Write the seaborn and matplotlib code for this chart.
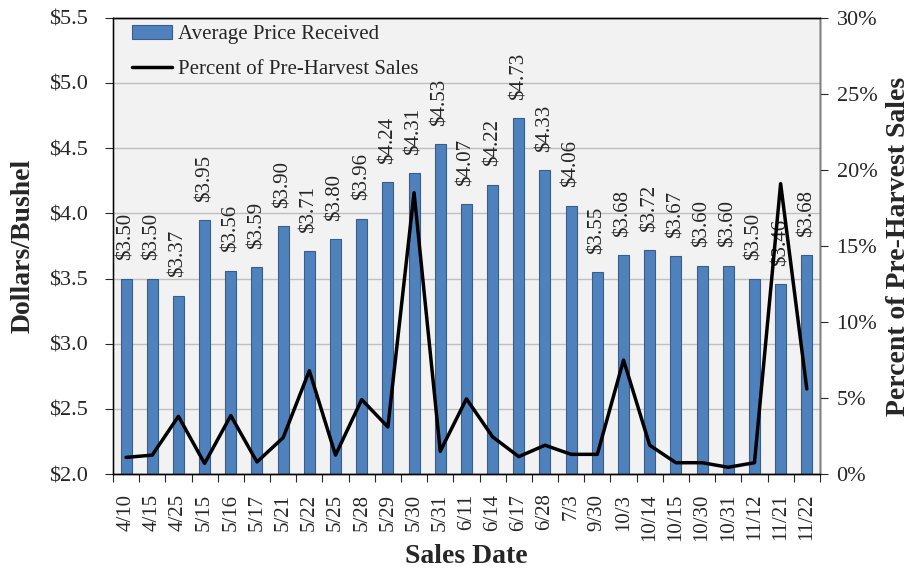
import pandas as pd
import matplotlib.pyplot as plt
import seaborn as sns
from matplotlib.ticker import FuncFormatter, MultipleLocator

dates = ['4/10', '4/15', '4/25', '5/15', '5/16', '5/17', '5/21', '5/22', '5/25', '5/28',
         '5/29', '5/30', '5/31', '6/11', '6/14', '6/17', '6/28', '7/3', '9/30', '10/3',
         '10/14', '10/15', '10/30', '10/31', '11/12', '11/21', '11/22']
prices = [3.50, 3.50, 3.37, 3.95, 3.56, 3.59, 3.90, 3.71, 3.80, 3.96,
          4.24, 4.31, 4.53, 4.07, 4.22, 4.73, 4.33, 4.06, 3.55, 3.68,
          3.72, 3.67, 3.60, 3.60, 3.50, 3.46, 3.68]
pct_sales = [1.1, 1.25, 3.8, 0.7, 3.85, 0.8, 2.4, 6.8, 1.25, 4.9,
             3.1, 18.5, 1.5, 4.95, 2.45, 1.15, 1.9, 1.3, 1.3, 7.5,
             1.9, 0.75, 0.75, 0.45, 0.75, 19.1, 5.6]

df = pd.DataFrame({'date': dates, 'price': prices, 'pct': pct_sales})
df['pos'] = range(len(df))

sns.set_style("ticks")
plt.rcParams['font.family'] = ['Liberation Serif', 'DejaVu Serif']

fig = plt.figure(figsize=(9.11, 5.74), dpi=100)
ax = fig.add_axes([0.124, 0.174, 0.776, 0.795])
ax.set_facecolor('#F2F2F2')

sns.barplot(data=df, x='date', y='price', color='#4F81BD', width=0.42,
            edgecolor='#385D8A', linewidth=0.8, saturation=1, ax=ax,
            label='Average Price Received', zorder=2)
# price labels above bars
for i, p in enumerate(prices):
    ax.text(i, p + 0.14, f'${p:.2f}', rotation=90, ha='center', va='bottom', fontsize=15)

ax.set_ylim(2.0, 5.5)
ax.set_xlim(-0.5, len(dates) - 0.5)
ax.yaxis.set_major_locator(MultipleLocator(0.5))
ax.yaxis.set_major_formatter(FuncFormatter(lambda v, _: f'${v:.1f}'))
ax.grid(axis='y', color='#BFBFBF', linewidth=1, zorder=0)
ax.set_axisbelow(True)
ax.set_xticks([i - 0.5 for i in range(len(dates) + 1)], minor=False)
ax.set_xticklabels([])
ax.set_xticks(range(len(dates)), minor=True)
ax.set_xticklabels(dates, minor=True, rotation=90, fontsize=15)
ax.tick_params(axis='x', which='minor', length=0, pad=14)
ax.tick_params(axis='x', which='major', length=6, direction='out')
ax.tick_params(axis='y', labelsize=16, length=6, pad=12)
ax.set_xlabel('Sales Date', fontsize=20, fontweight='bold', labelpad=2)
ax.set_ylabel('Dollars/Bushel', fontsize=20, fontweight='bold', labelpad=10)

ax2 = ax.twinx()
sns.lineplot(data=df, x='pos', y='pct', color='black', linewidth=2.5, ax=ax2,
             label='Percent of Pre-Harvest Sales')
ax2.set_ylim(0, 30)
ax2.yaxis.set_major_locator(MultipleLocator(5))
ax2.yaxis.set_major_formatter(FuncFormatter(lambda v, _: f'{v:.0f}%'))
ax2.tick_params(axis='y', labelsize=16, length=6, pad=6)
ax2.set_ylabel('Percent of Pre-Harvest Sales', fontsize=20, fontweight='bold', labelpad=6)
ax2.set_xlim(-0.5, len(dates) - 0.5)
ax2.set_xlabel('')

for a in (ax, ax2):
    for s in a.spines.values():
        s.set_color('black')
        s.set_linewidth(1)
ax.spines['left'].set_color('#808080')
ax2.spines['right'].set_color('#808080')

h1, l1 = ax.get_legend_handles_labels()
h2, l2 = ax2.get_legend_handles_labels()
ax2.legend(h1 + h2, l1 + l2, loc='upper left', bbox_to_anchor=(0.027, 0.985), frameon=False,
           fontsize=15, handlelength=1.9, handletextpad=0.3, labelspacing=0.75,
           borderpad=0, borderaxespad=0)
if ax.get_legend():
    ax.get_legend().remove()

plt.savefig('out.png', dpi=100)
